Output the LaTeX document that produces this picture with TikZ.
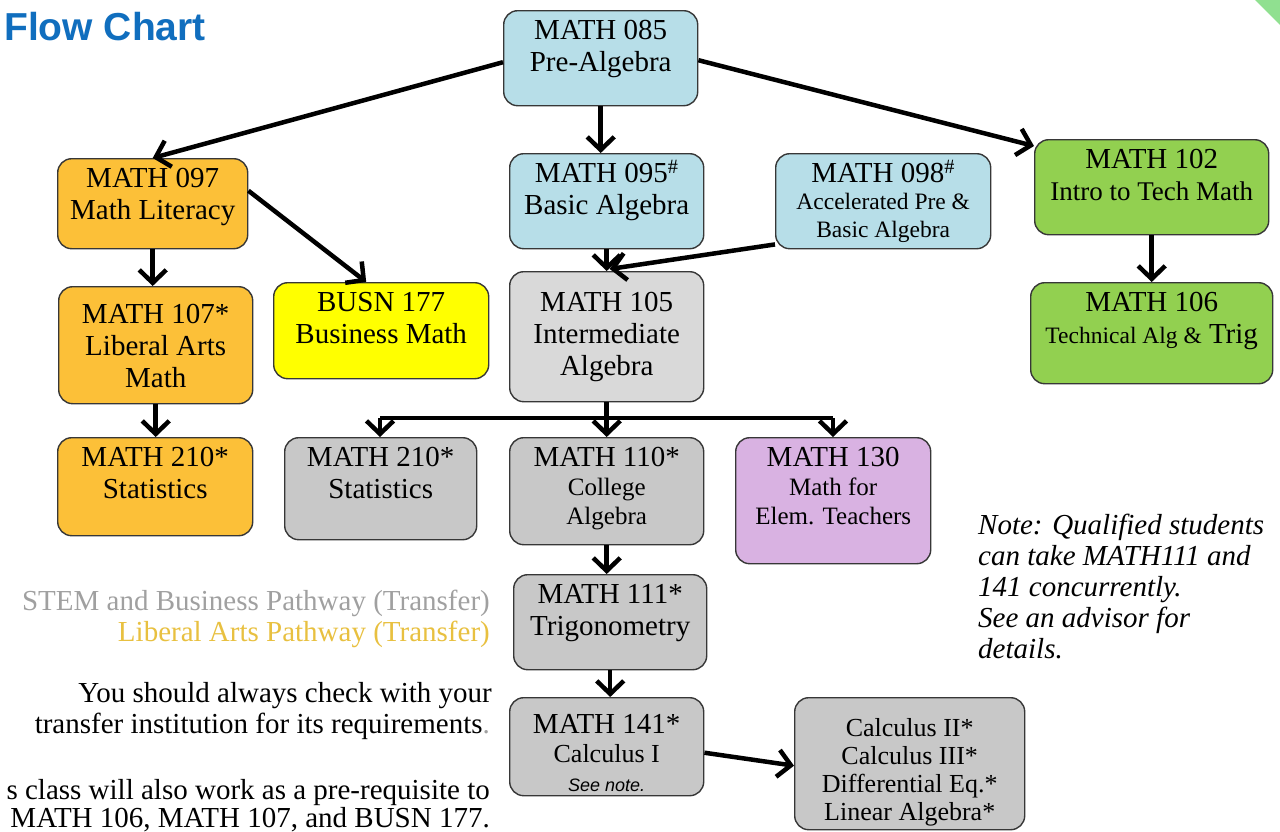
\documentclass[tikz,border=0pt]{standalone}
\usepackage{fontspec}
\setmainfont{Liberation Serif}
\newfontfamily\sansf{Liberation Sans}
\usetikzlibrary{arrows.meta}
\definecolor{cblue}{RGB}{183,222,232}
\definecolor{cgreen}{RGB}{146,208,80}
\definecolor{corange}{RGB}{252,192,56}
\definecolor{cyellow}{RGB}{255,255,0}
\definecolor{cgrayl}{RGB}{217,217,217}
\definecolor{cgray}{RGB}{200,200,200}
\definecolor{cpurple}{RGB}{217,178,226}
\definecolor{ctitle}{RGB}{16,110,190}
\definecolor{cstem}{RGB}{160,160,160}
\definecolor{clib}{RGB}{232,192,64}
\definecolor{ctri}{RGB}{144,224,144}
\definecolor{cborder}{RGB}{55,55,55}
\newcommand{\fs}[2]{\fontsize{#1}{#2}\selectfont}
\newcommand{\course}[8]{%
  \node[box,#2,minimum width={#5-#3},minimum height={#6-#4},anchor=north west,
    label={[lbl,#7]north:{#8}}] (#1) at (#3,#4) {};}
\tikzset{
  box/.style={draw=cborder,line width=1.4pt,rounded corners=14pt,inner sep=0pt},
  lbl/.style={anchor=north,inner sep=0pt,yshift=-10pt,align=center,font=\fs{29}{32},text=black},
  arr/.style={line width=4.5pt,draw=black,-{Straight Barb[length=13pt,width=27pt]}},
  bar/.style={line width=4.5pt,draw=black},
  side/.style={inner sep=0pt,font=\fs{29}{31}},
}
\begin{document}
\begin{tikzpicture}[x=1pt,y=-1pt]
\useasboundingbox (0,0) rectangle (1280,831);
\fill[ctri] (1255,0) -- (1280,0) -- (1280,25) -- cycle;

\node[anchor=base west,inner sep=0pt,font=\sansf\bfseries\fs{39}{44},text=ctitle] (title) at (4,40) {Flow Chart};

\course{m085}{fill=cblue}{503}{10}{697}{105}{}{MATH 085\\Pre-Algebra}
\course{m095}{fill=cblue}{509}{153}{703}{248}{}{MATH 095\smash{\textsuperscript{\#}}\\Basic Algebra}
\course{m098}{fill=cblue}{775}{153}{990}{248}{font=\fs{23.5}{27.5}}{{\fs{29}{32}MATH 098\smash{\textsuperscript{\#}}}\\Accelerated Pre \&\\Basic Algebra}
\course{m102}{fill=cgreen}{1034}{139}{1268}{234}{}{MATH 102\\{\fs{27}{30}Intro to Tech Math}}
\course{m106}{fill=cgreen}{1030}{282}{1272}{383}{}{MATH 106\\{\fs{23.5}{27}Technical Alg \&} Trig}
\course{m097}{fill=corange}{57}{158}{247}{248}{}{MATH 097\\Math Literacy}
\course{m107}{fill=corange}{58}{286}{252}{403}{yshift=-8pt}{MATH 107*\\Liberal Arts\\Math}
\course{busn}{fill=cyellow}{273}{282}{488}{378}{}{BUSN 177\\Business Math}
\course{m210a}{fill=corange}{57}{437}{252}{535}{}{MATH 210*\\Statistics}
\course{m105}{fill=cgrayl}{509}{271}{703}{401}{yshift=-11pt}{MATH 105\\Intermediate\\Algebra}
\course{m210b}{fill=cgray}{284}{437}{476}{539}{}{MATH 210*\\Statistics}
\course{m110}{fill=cgray}{509}{437}{703}{544}{font=\fs{25}{29}}{{\fs{29}{32}MATH 110*}\\College\\Algebra}
\course{m130}{fill=cpurple}{735}{437}{930}{563}{font=\fs{25}{29}}{{\fs{29}{32}MATH 130}\\Math for\\Elem. Teachers}
\course{m111}{fill=cgray}{513}{574}{706}{669}{}{MATH 111*\\Trigonometry}
\course{m141}{fill=cgray}{509}{697}{703}{795}{yshift=-7pt,font=\fs{26}{29}}{{\fs{29}{32}MATH 141*}\\Calculus I\\{\sansf\itshape\fs{18}{20}See note.}}
\course{calc}{fill=cgray}{794}{697}{1024}{829}{yshift=-11pt,font=\fs{26}{28}}{Calculus II*\\Calculus III*\\Differential Eq.*\\Linear Algebra*}

\draw[arr] ([yshift=-4pt]m085.west) -- (m097.north);
\draw[arr] (m085.south) -- (m085.south |- m095.north);
\draw[arr] ([yshift=-2pt]m085.east) -- ([yshift=-7pt]m102.north west);
\draw[arr] ([yshift=13pt]m097.east) -- ([xshift=-15pt]busn.north);
\draw[arr] (m097.south) -- (m097.south |- m107.north);
\draw[arr] (m107.south) -- (m107.south |- m210a.north);
\draw[arr] (m095.south) -- (m105.north);
\draw[arr] ([yshift=5pt]m098.south west) -- ([xshift=3pt,yshift=2pt]m105.north);
\draw[arr] (m102.south) -- (m102.south |- m106.north);
\coordinate (bl) at (380,418);
\coordinate (br) at (833,418);
\draw[bar] (bl) -- (br);
\draw[arr] (m105.south) -- (m105.south |- m110.north);
\draw[arr] (bl) -- (bl |- m210b.north);
\draw[arr] (br) -- (br |- m130.north);
\draw[arr] (m110.south) -- (m110.south |- m111.north);
\draw[arr] (m111.south) -- (m111.south |- m141.north);
\draw[arr] ([yshift=-6pt]m141.east) -- ([yshift=-2pt]calc.west);

\node[side,anchor=base east,text=cstem] (stem) at (490,610) {STEM and Business Pathway (Transfer)};
\node[side,anchor=base east,text=clib] (lib) at (490,641) {Liberal Arts Pathway (Transfer)};
\node[side,anchor=base east] (chk1) at (492,702) {You should always check with your};
\node[side,anchor=base east] (chk2) at (490,733) {transfer institution for its requirements{\color{cstem}.}};
\node[side,anchor=base east] (pre1) at (490,799) {s class will also work as a pre-requisite to};
\node[side,anchor=base east] (pre2) at (490,827) {MATH 106, MATH 107, and BUSN 177.};
\node[side,anchor=north west,align=left,font=\itshape\fs{29}{31}] (note) at (978,514) {Note: Qualified students\\can take MATH111 and\\141 concurrently.\\See an advisor for\\details.};
\end{tikzpicture}
\end{document}
